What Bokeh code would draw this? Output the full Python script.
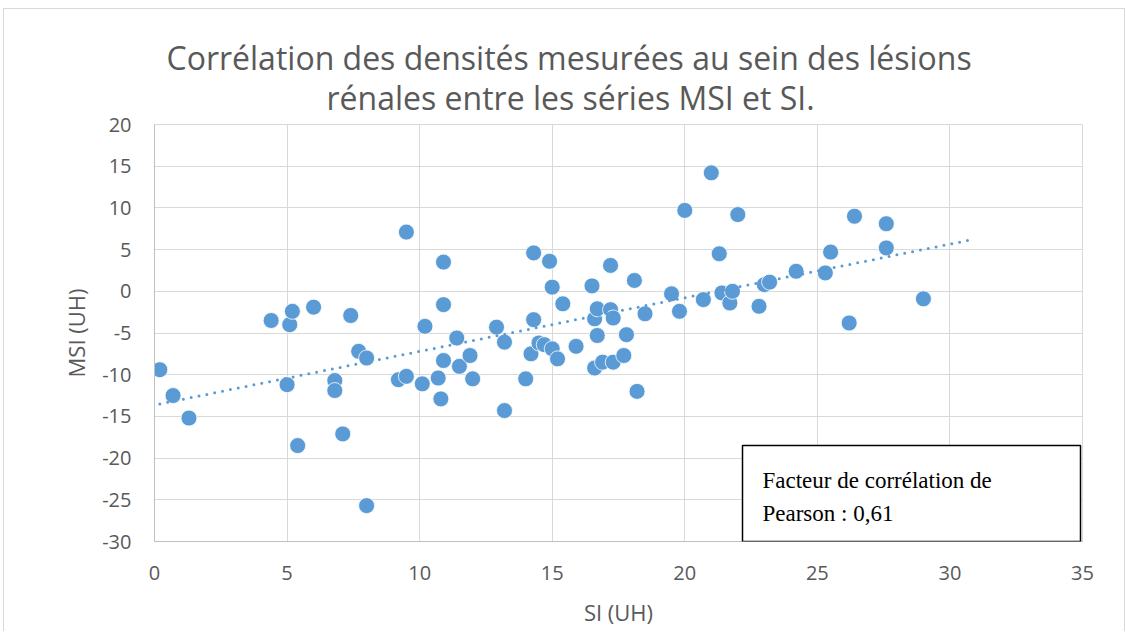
import numpy as np
from bokeh.plotting import figure
from bokeh.models import (Range1d, SingleIntervalTicker, Label, BoxAnnotation, ColumnDataSource,
                          Title, CustomJSTickFormatter)
from bokeh.embed import file_html
from bokeh.resources import INLINE

# ---- data ----
si = [0.2, 0.7, 1.3, 4.4, 5.0, 5.1, 5.2, 5.4, 6.0, 6.8, 6.8, 7.1, 7.4, 7.7, 8.0, 8.0,
      9.2, 9.5, 9.5, 10.1, 10.2, 10.7, 10.8, 10.9, 10.9, 10.9, 11.4, 11.5, 11.9, 12.0,
      12.9, 13.2, 13.2, 14.0, 14.2, 14.3, 14.3, 14.5, 14.7, 14.9, 15.0, 15.0, 15.2, 15.4,
      15.9, 16.5, 16.6, 16.6, 16.7, 16.7, 16.9, 17.2, 17.2, 17.3, 17.3, 17.7, 17.8, 18.1,
      18.2, 18.5, 19.5, 19.8, 20.0, 20.7, 21.0, 21.3, 21.4, 21.7, 21.8, 22.0, 22.8, 23.0,
      23.2, 24.2, 25.3, 25.5, 26.2, 26.4, 27.6, 27.6, 29.0]
msi = [-9.4, -12.5, -15.2, -3.5, -11.2, -4.0, -2.4, -18.5, -1.9, -10.7, -11.9, -17.1, -2.9, -7.2, -8.0, -25.7,
       -10.6, -10.2, 7.1, -11.1, -4.2, -10.4, -12.9, 3.5, -1.6, -8.3, -5.6, -9.0, -7.7, -10.5,
       -4.3, -6.1, -14.3, -10.5, -7.5, 4.6, -3.4, -6.2, -6.4, 3.6, 0.5, -6.9, -8.1, -1.5,
       -6.6, 0.65, -3.3, -9.2, -2.1, -5.3, -8.5, 3.1, -2.2, -3.2, -8.5, -7.7, -5.2, 1.3,
       -12.0, -2.7, -0.3, -2.4, 9.7, -1.0, 14.2, 4.5, -0.2, -1.4, 0.0, 9.2, -1.8, 0.8,
       1.1, 2.4, 2.2, 4.7, -3.8, 9.0, 8.1, 5.2, -0.9]
trend_end = 30.8
title_lines = ["Corrélation des densités mesurées au sein des lésions",
               "rénales entre les séries MSI et SI."]
note_lines = ["Facteur de corrélation de", "Pearson : 0,61"]

# linear trend (least squares) from the data
slope, intercept = np.polyfit(si, msi, 1)
tx = np.array([min(si), trend_end])
ty = slope * tx + intercept

GRAY_TXT = "#595959"
BLUE = "#5B9BD5"
FONT = "Open Sans"

p = figure(frame_width=928, frame_height=417, min_border_left=150, min_border_right=42,
           min_border_top=115, min_border_bottom=90, output_backend="svg",
           toolbar_location=None, x_range=Range1d(0, 35), y_range=Range1d(-30, 20),
           background_fill_color="white", border_fill_color="white",
           styles={"border-top": "1px solid #d9d9d9", "border-left": "1px solid #d9d9d9",
                   "border-right": "1px solid #d9d9d9", "margin-left": "3px",
                   "margin-top": "8px"})

p.title.text = ""
p.title.visible = False

fmt = CustomJSTickFormatter(code="return tick.toFixed(0);")
p.xaxis.ticker = SingleIntervalTicker(interval=5)
p.yaxis.ticker = SingleIntervalTicker(interval=5)
for ax in (p.xaxis, p.yaxis):
    ax.formatter = fmt
    ax.major_tick_line_color = None
    ax.minor_tick_line_color = None
    ax.major_tick_out = 0
    ax.major_tick_in = 0
    ax.minor_tick_out = 0
    ax.minor_tick_in = 0
    ax.axis_line_color = "#bfbfbf"
    ax.major_label_text_font = FONT
    ax.major_label_text_font_size = "20px"
    ax.major_label_text_color = GRAY_TXT
    ax.axis_label_text_font = FONT
    ax.axis_label_text_font_size = "22px"
    ax.axis_label_text_font_style = "normal"
    ax.axis_label_text_color = GRAY_TXT
p.xaxis.major_label_standoff = 24
p.yaxis.major_label_standoff = 23
p.xaxis.axis_label = "SI (UH)"
p.yaxis.axis_label = "MSI (UH)"
p.xaxis.axis_label_standoff = 14
p.yaxis.axis_label_standoff = 8

p.grid.grid_line_color = "#d9d9d9"
p.grid.grid_line_width = 1
p.outline_line_color = "#d9d9d9"

src = ColumnDataSource(dict(x=si, y=msi))
p.scatter("x", "y", source=src, size=16, fill_color=BLUE, line_color="white", line_width=0.8)
p.line(tx, ty, line_color=BLUE, line_width=3, line_dash="0 8", line_cap="round")

# two-line title, left-aligned with offsets so that it is centred on the chart area
p.add_layout(Title(text=title_lines[1], align="left", offset=172, standoff=12,
                   text_font=FONT, text_font_size="32px", text_font_style="normal",
                   text_color=GRAY_TXT), "above")
p.add_layout(Title(text=title_lines[0], align="left", offset=12, standoff=-22,
                   text_font=FONT, text_font_size="32px", text_font_style="normal",
                   text_color=GRAY_TXT), "above")

# note box
p.add_layout(BoxAnnotation(left=588, right=926, bottom=0, top=96, left_units="screen",
                           right_units="screen", bottom_units="screen", top_units="screen",
                           fill_color="white", fill_alpha=1.0, line_color="black",
                           line_alpha=1.0, line_width=1.5, level="overlay"))
p.add_layout(Label(x=608, y=61, x_units="screen", y_units="screen", text=note_lines[0],
                   text_baseline="alphabetic", text_font="Liberation Serif",
                   text_font_size="23px", text_color="black", level="overlay"))
p.add_layout(Label(x=608, y=28, x_units="screen", y_units="screen", text=note_lines[1],
                   text_baseline="alphabetic", text_font="Liberation Serif",
                   text_font_size="23px", text_color="black", level="overlay"))

open("out.html", "w").write(file_html(p, INLINE))
